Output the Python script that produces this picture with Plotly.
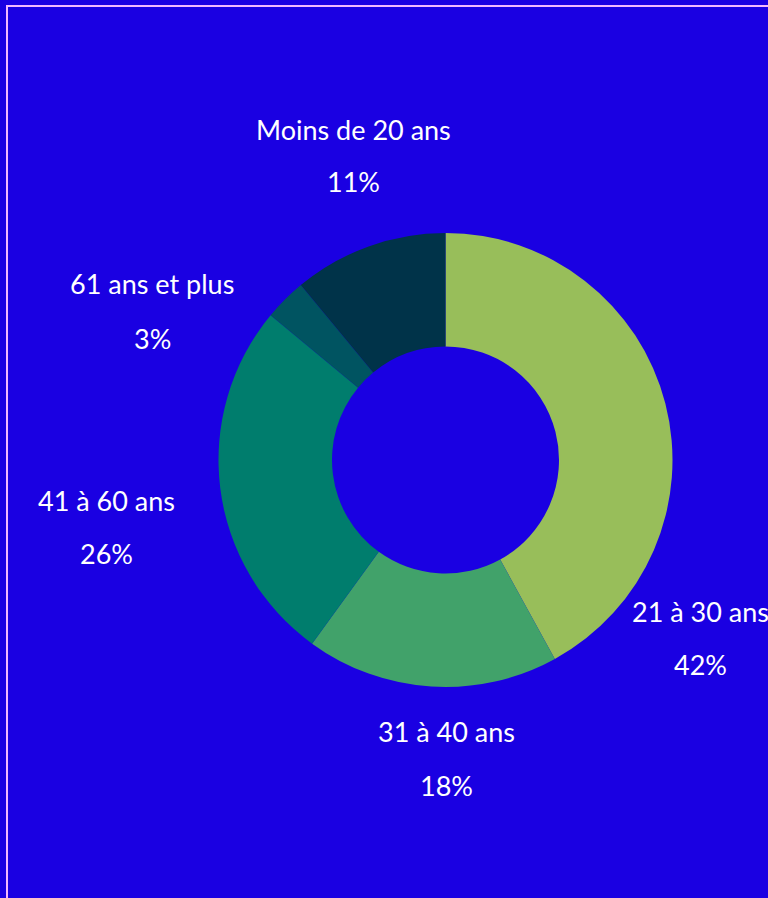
import plotly.graph_objects as go

categories = ["21 à 30 ans", "31 à 40 ans", "41 à 60 ans", "61 ans et plus", "Moins de 20 ans"]
values = [42, 18, 26, 3, 11]
colors = ["#98BE5A", "#41A26A", "#007D6D", "#005461", "#003349"]
# label anchor (pixel) positions: centre x, name line y, percent line y
label_x = [700, 446, 106, 152, 353]
name_y = [611, 731, 500, 284, 130]
pct_y = [664, 785, 553, 338, 182]

W, H = 768, 898
cx, cy, R = 445.5, 460, 227

fig = go.Figure(go.Pie(
    labels=categories, values=values, sort=False, direction="clockwise", rotation=0,
    hole=0.5, marker=dict(colors=colors, line=dict(width=0)),
    textinfo="none", hoverinfo="label+percent", showlegend=False,
    domain=dict(x=[(cx - R) / W, (cx + R) / W], y=[1 - (cy + R) / H, 1 - (cy - R) / H]),
))

font = dict(family="Lato, Carlito, sans-serif", size=27, color="white")
total = sum(values)
for cat, v, x, y1, y2 in zip(categories, values, label_x, name_y, pct_y):
    fig.add_annotation(x=x / W, y=1 - y1 / H, xref="paper", yref="paper", text=cat,
                       showarrow=False, font=font, xanchor="center", yanchor="middle")
    fig.add_annotation(x=x / W, y=1 - y2 / H, xref="paper", yref="paper",
                       text=f"{round(100 * v / total)}%",
                       showarrow=False, font=font, xanchor="center", yanchor="middle")

fig.add_shape(type="rect", xref="paper", yref="paper",
              x0=7 / W, x1=1.05, y0=-0.05, y1=1 - 6 / H,
              line=dict(color="#F2B8FF", width=2), fillcolor="rgba(0,0,0,0)")

fig.update_layout(width=W, height=H, margin=dict(l=0, r=0, t=0, b=0),
                  paper_bgcolor="#1A00E2", plot_bgcolor="#1A00E2")
fig.write_html("out.html")
